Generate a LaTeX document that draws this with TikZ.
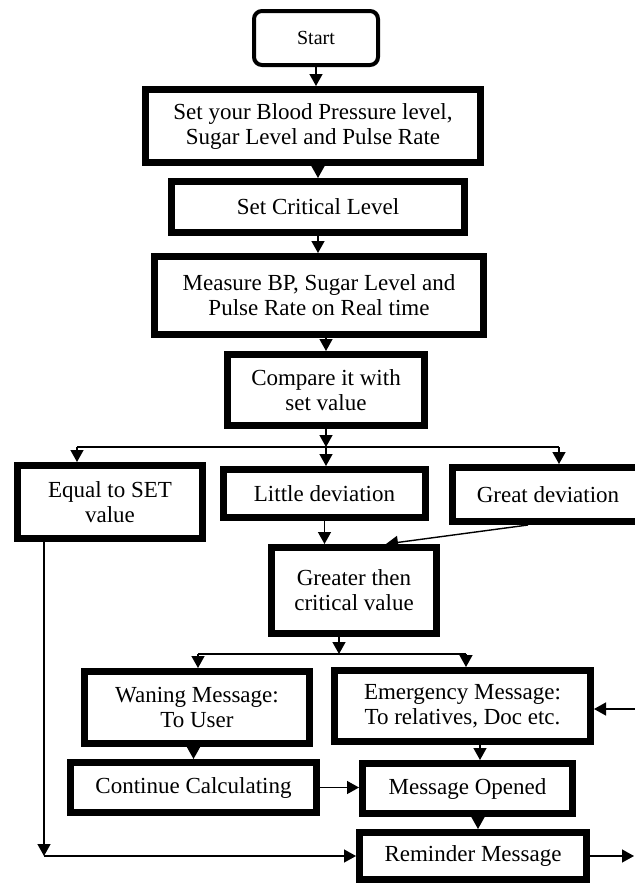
\documentclass[tikz,border=0pt]{standalone}
\usepackage{fontspec}
\setmainfont{Liberation Serif}
\usetikzlibrary{arrows.meta}

\begin{document}
\begin{tikzpicture}[x=0.5pt, y=-0.5pt,
	box/.style={draw, line width=3.5pt, align=center, inner sep=0pt, font=\fontsize{11.5}{12.5}\selectfont},
	startbox/.style={draw, rounded corners=4pt, line width=2pt, font=\fontsize{10}{12}\selectfont},
	arr/.style={line width=0.7pt, -{Triangle[length=6pt, width=6.5pt]}},
	link/.style={line width=0.7pt}]
	
	\path[use as bounding box, clip] (0,0) rectangle (635,884);
	
	\node[startbox, minimum width=62pt, minimum height=27pt] (start) at (316,38) {Start};
	\node[box, minimum width=167.5pt, minimum height=36.5pt] (setlvl) at (313,126) {Set your Blood Pressure level,\\Sugar Level and Pulse Rate};
	\node[box, minimum width=146.5pt, minimum height=25.5pt] (crit) at (318,207) {Set Critical Level};
	\node[box, minimum width=164.5pt, minimum height=39pt] (measure) at (319,295.5) {Measure BP, Sugar Level and\\Pulse Rate on Real time};
	\node[box, minimum width=98.5pt, minimum height=35.5pt] (compare) at (326,390) {Compare it with\\set value};
	
	\node[box, minimum width=92.5pt, minimum height=36.5pt] (equal) at (110,502) {Equal to SET\\value};
	\node[box, minimum width=101pt, minimum height=24pt] (little) at (324.5,493.5) {Little deviation};
	\node[box, minimum width=95.5pt, minimum height=27pt] (great) at (548,494.5) {Great deviation};
	\node[box, minimum width=82.5pt, minimum height=43pt] (greater) at (354,590.5) {Greater then\\critical value};
	
	\node[box, minimum width=112.5pt, minimum height=36pt] (warn) at (197,707.5) {Waning Message:\\To User};
	\node[box, minimum width=128pt, minimum height=35.5pt] (emerg) at (462.5,706) {Emergency Message:\\To relatives, Doc etc.};
	\node[box, minimum width=123pt, minimum height=25pt] (cont) at (193.5,787.5) {Continue Calculating};
	\node[box, minimum width=105pt, minimum height=25pt] (opened) at (467.5,788.5) {Message Opened};
	\node[box, minimum width=113.5pt, minimum height=23.5pt] (remind) at (473,856) {Reminder Message};
	
	\coordinate (jA) at (326,447);
	\coordinate (jAl) at (77,447);
	\coordinate (jAr) at (559,447);
	\coordinate (jB) at (339,654);
	\coordinate (jBl) at (198,654);
	\coordinate (jBr) at (466,654);
	\coordinate (corner) at (44,856);
	\coordinate (fromR) at (650,709);
	\coordinate (toR) at (634,856);
	\coordinate (ebot) at ([xshift=8.75pt]emerg.south);
	\coordinate (rtop) at ([xshift=2.5pt]remind.north);
	
	\draw[arr] (start.south) -- (start.south |- setlvl.north);
	\draw[arr] (setlvl.south -| crit.north) -- (crit.north);
	\draw[arr] (crit.south) -- (crit.south |- measure.north);
	\draw[arr] (measure.south -| compare.north) -- (compare.north);
	\draw[arr] (compare.south) -- (jA);
	
	\draw[link] (jAl) -- (jAr);
	\draw[arr] (jAl) -- (jAl |- equal.north);
	\draw[arr] (jA) -- (jA |- little.north);
	\draw[arr] (jAr) -- (jAr |- great.north);
	
	\draw[arr] (little.south) -- (little.south |- greater.north);
	\draw[arr] ([xshift=-10pt]great.south) -- ([xshift=16pt]greater.north);
	\draw[arr] (greater.south -| jB) -- (jB);
	
	\draw[link] (jBl) -- (jBr);
	\draw[arr] (jBl) -- (jBl |- warn.north);
	\draw[arr] (jBr) -- (jBr |- emerg.north);
	
	\draw[arr] (warn.south -| cont.north) -- (cont.north);
	\draw[arr] (ebot) -- (ebot |- opened.north);
	\draw[arr] (rtop |- opened.south) -- (rtop);
	\draw[arr] (cont.east) -- (cont.east -| opened.west);
	
	\draw[arr] (equal.south -| corner) -- (corner);
	\draw[arr] (corner) -- (remind.west);
	\draw[arr] (fromR) -- (fromR -| emerg.east);
	\draw[arr] (remind.east) -- (toR);
	
\end{tikzpicture}
\end{document}
